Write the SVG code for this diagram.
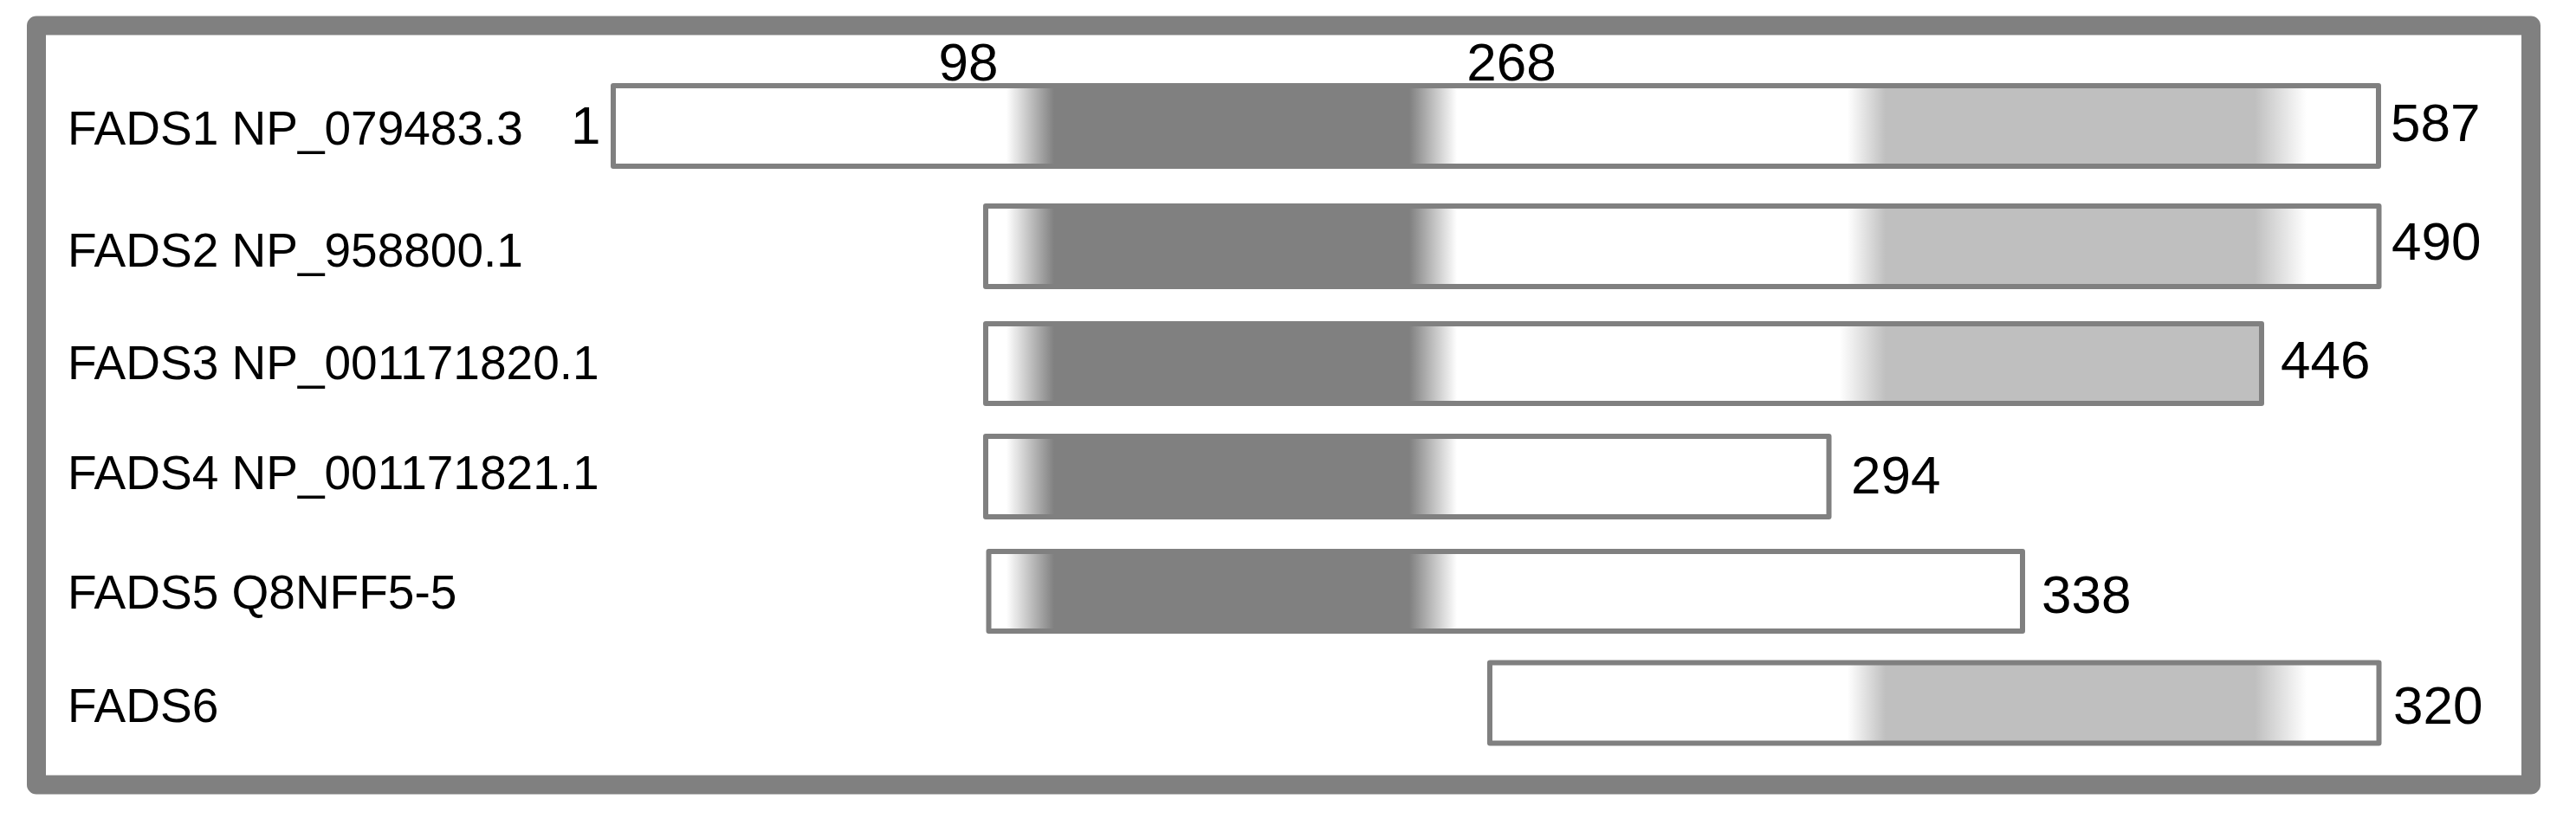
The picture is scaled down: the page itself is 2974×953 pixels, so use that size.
<svg xmlns="http://www.w3.org/2000/svg" width="2974" height="953" viewBox="0 0 2974 953">
<style>
.lbl{font-family:"Liberation Sans",Arial,sans-serif;font-size:55px;fill:#000}
.num{font-family:"Liberation Sans",Arial,sans-serif;font-size:62px;fill:#000}
.bar{stroke:#808080;stroke-width:6;stroke-linejoin:round}
</style>
<defs>
<linearGradient id="gBoth" gradientUnits="userSpaceOnUse" x1="0" y1="0" x2="2974" y2="0">
<stop offset="0.3907" stop-color="#fff"/>
<stop offset="0.4092" stop-color="#808080"/>
<stop offset="0.5471" stop-color="#808080"/>
<stop offset="0.5656" stop-color="#fff"/>
<stop offset="0.7172" stop-color="#fff"/>
<stop offset="0.7320" stop-color="#bfbfbf"/>
<stop offset="0.8753" stop-color="#bfbfbf"/>
<stop offset="0.8954" stop-color="#fff"/>
</linearGradient>
<linearGradient id="gDarkLightEnd" gradientUnits="userSpaceOnUse" x1="0" y1="0" x2="2974" y2="0">
<stop offset="0.3907" stop-color="#fff"/>
<stop offset="0.4092" stop-color="#808080"/>
<stop offset="0.5471" stop-color="#808080"/>
<stop offset="0.5656" stop-color="#fff"/>
<stop offset="0.7142" stop-color="#fff"/>
<stop offset="0.7320" stop-color="#bfbfbf"/>
<stop offset="1" stop-color="#bfbfbf"/>
</linearGradient>
<linearGradient id="gDark" gradientUnits="userSpaceOnUse" x1="0" y1="0" x2="2974" y2="0">
<stop offset="0.3907" stop-color="#fff"/>
<stop offset="0.4092" stop-color="#808080"/>
<stop offset="0.5471" stop-color="#808080"/>
<stop offset="0.5656" stop-color="#fff"/>
</linearGradient>
</defs>
<rect width="2974" height="953" fill="#fff"/>
<g id="frame">
<rect x="42" y="29.5" width="2880" height="877" fill="#fff" stroke="#808080" stroke-width="22" stroke-linejoin="round"/>
</g>
<g id="scale-labels">
<text class="num" x="1118" y="93" text-anchor="middle">98</text>
<text class="num" x="1745" y="93" text-anchor="middle">268</text>
</g>
<g id="FADS1">
<text class="lbl" x="78" y="167">FADS1 NP_079483.3</text>
<text class="num" x="659" y="166">1</text>
<rect class="bar" x="708" y="99" width="2038" height="93" fill="url(#gBoth)"/>
<text class="num" x="2760" y="163">587</text>
</g>
<g id="FADS2">
<text class="lbl" x="78" y="308">FADS2 NP_958800.1</text>
<rect class="bar" x="1138" y="238" width="1608.5" height="93" fill="url(#gBoth)"/>
<text class="num" x="2761" y="300">490</text>
</g>
<g id="FADS3">
<text class="lbl" x="78" y="438">FADS3 NP_001171820.1</text>
<rect class="bar" x="1138" y="374" width="1473" height="92" fill="url(#gDarkLightEnd)"/>
<text class="num" x="2633" y="437">446</text>
</g>
<g id="FADS4">
<text class="lbl" x="78" y="565">FADS4 NP_001171821.1</text>
<rect class="bar" x="1138" y="504" width="973.5" height="93" fill="url(#gDark)"/>
<text class="num" x="2137" y="570">294</text>
</g>
<g id="FADS5">
<text class="lbl" x="78" y="703">FADS5 Q8NFF5-5</text>
<rect class="bar" x="1141.5" y="637" width="1193.5" height="92" fill="url(#gDark)"/>
<text class="num" x="2357" y="708">338</text>
</g>
<g id="FADS6">
<text class="lbl" x="78" y="834">FADS6</text>
<rect class="bar" x="1720" y="765.5" width="1026.5" height="93" fill="url(#gBoth)"/>
<text class="num" x="2763" y="836">320</text>
</g>
<g id="connectors"/>
</svg>
